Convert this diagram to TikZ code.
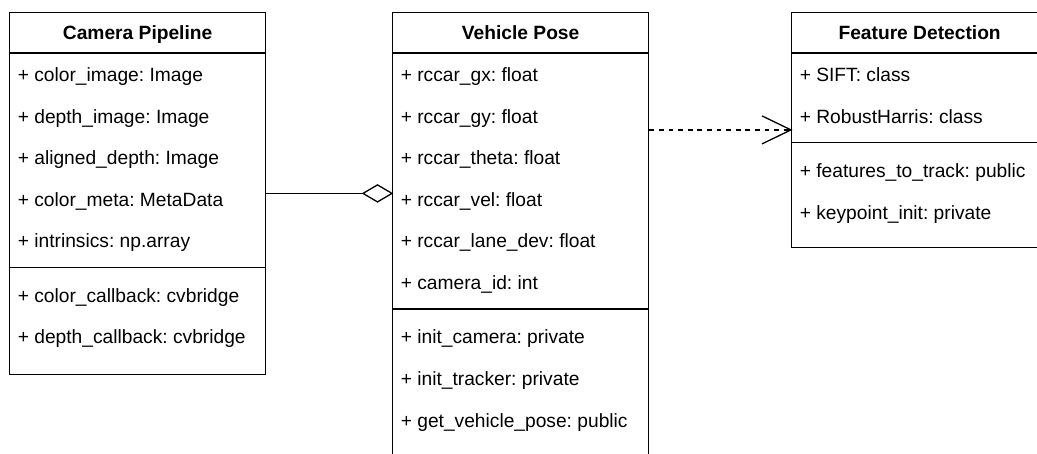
\documentclass[tikz,border=0pt]{standalone}
\usepackage{fontspec}
\setmainfont{Liberation Sans}
\usetikzlibrary{calc,arrows.meta}
\frenchspacing
\begin{document}
\begin{tikzpicture}[x=1pt,y=-1pt,
  umlbox/.style={draw, line width=1.3pt, rectangle, inner sep=0pt, anchor=north west, minimum width=256pt},
  sepline/.style={line width=1.3pt},
  titletext/.style={font=\fontsize{19.2}{23}\selectfont\bfseries, anchor=base, inner sep=0pt},
  rowtext/.style={font=\fontsize{19.2}{23}\selectfont, anchor=base west, inner sep=0pt},
  conn/.style={line width=1.3pt}
]
\useasboundingbox (0,0) rectangle (1037,453);
\clip (0,0) rectangle (1037,453);

% boxes
\node[umlbox, minimum height=362.5pt] (cam) at (9,11.5) {};
\node[umlbox, minimum height=470pt] (vp) at (392,11.5) {};
\node[umlbox, minimum height=235.5pt] (fd) at (791,11.5) {};

% titles
\node[titletext] (camT) at ($(cam.north)+(0,27.8)$) {Camera Pipeline};
\node[titletext] (vpT) at ($(vp.north)+(0,27.8)$) {Vehicle Pose};
\node[titletext] (fdT) at ($(fd.north)+(0,27.8)$) {Feature Detection};

% separators
\foreach \b/\d in {cam/41.6, cam/256, vp/41.6, vp/297.6, fd/41.6, fd/131.2}{
  \draw[sepline] ($(\b.north west)+(0,\d)$) -- ($(\b.north east)+(0,\d)$);
}

% Camera Pipeline rows
\node[rowtext] (c1) at (17.6,81.5) {+ color\_image: Image};
\node[rowtext] (c2) at (17.6,123.1) {+ depth\_image: Image};
\node[rowtext] (c3) at (17.6,164.7) {+ aligned\_depth: Image};
\node[rowtext] (c4) at (17.6,206.3) {+ color\_meta: MetaData};
\node[rowtext] (c5) at (17.6,247.9) {+ intrinsics: np.array};
\node[rowtext] (c6) at (17.6,302.3) {+ color\_callback: cvbridge};
\node[rowtext] (c7) at (17.6,343.9) {+ depth\_callback: cvbridge};

% Vehicle Pose rows
\node[rowtext] (v1) at (400.6,81.5) {+ rccar\_gx: float};
\node[rowtext] (v2) at (400.6,123.1) {+ rccar\_gy: float};
\node[rowtext] (v3) at (400.6,164.7) {+ rccar\_theta: float};
\node[rowtext] (v4) at (400.6,206.3) {+ rccar\_vel: float};
\node[rowtext] (v5) at (400.6,247.9) {+ rccar\_lane\_dev: float};
\node[rowtext] (v6) at (400.6,289.5) {+ camera\_id: int};
\node[rowtext] (v7) at (400.6,343.9) {+ init\_camera: private};
\node[rowtext] (v8) at (400.6,385.5) {+ init\_tracker: private};
\node[rowtext] (v9) at (400.6,427.1) {+ get\_vehicle\_pose: public};

% Feature Detection rows
\node[rowtext] (f1) at (799.6,81.5) {+ SIFT: class};
\node[rowtext] (f2) at (799.6,123.1) {+ RobustHarris: class};
\node[rowtext] (f3) at (799.6,177.5) {+ features\_to\_track: public};
\node[rowtext] (f4) at (799.6,219.1) {+ keypoint\_init: private};

% aggregation
\coordinate (aggTip) at (cam.east -| vp.west);
\draw[conn] (cam.east) -- ($(aggTip)+(-29,0)$);
\draw[conn, line join=miter] ($(aggTip)+(-29,0)$) -- ($(aggTip)+(-14.5,-8.5)$) -- (aggTip) -- ($(aggTip)+(-14.5,8.5)$) -- cycle;

% dependency
\coordinate (depStart) at (vp.east |- fd.west);
\draw[conn, dash pattern=on 4.8pt off 4.8pt] (depStart) -- (fd.west);
\draw[conn] ($(fd.west)+(-29,-14)$) -- (fd.west) -- ($(fd.west)+(-29,14)$);
\end{tikzpicture}
\end{document}
